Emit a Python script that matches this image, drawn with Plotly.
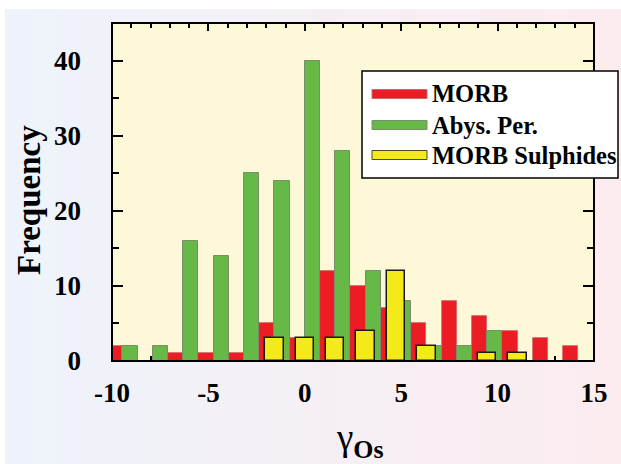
import plotly.graph_objects as go

# Histogram bins (bin centres, gamma-Os) and counts per group
bin_centres = [-9.46, -7.89, -6.31, -4.73, -3.15, -1.58, 0.0, 1.58,
               3.15, 4.73, 6.31, 7.89, 9.46, 11.04, 12.62, 14.19]
morb = [2, 0, 1, 1, 1, 5, 3, 12, 10, 7, 5, 8, 6, 4, 3, 2]
abyssal_per = [2, 2, 16, 14, 25, 24, 40, 28, 12, 8, 2, 2, 4, 0, 0, 0]
morb_sulphides = [0, 0, 0, 0, 0, 3, 3, 3, 4, 12, 2, 0, 1, 1, 0, 0]

series_names = ["MORB", "Abys. Per.", "MORB Sulphides"]
x_ticks = [-10, -5, 0, 5, 10, 15]
y_ticks = [0, 10, 20, 30, 40]

RED = "#ec1c24"
GREEN = "#66b947"
YELLOW = "#f4ea1a"
PLOT_BG = "#fdf8d8"
FONT = "Liberation Serif"

W, H = 621, 464
ML, MR, MT, MB = 112, 27, 23, 103
PW, PH = W - ML - MR, H - MT - MB

half = 0.7885  # half of the bin width


def nz(vals):
    return [v if v else None for v in vals]


def px_x(p):
    return (p - ML) / PW


def px_y(p):
    return (H - MB - p) / PH


fig = go.Figure()
fig.add_trace(go.Bar(x=bin_centres, y=nz(morb), width=half, offset=-half,
                     marker=dict(color=RED, line=dict(color="#c86a6a", width=0.8)),
                     name=series_names[0], showlegend=False))
fig.add_trace(go.Bar(x=bin_centres, y=nz(abyssal_per), width=half, offset=0,
                     marker=dict(color=GREEN, line=dict(color="#7a8c6c", width=1)),
                     name=series_names[1], showlegend=False))
fig.add_trace(go.Bar(x=bin_centres, y=nz(morb_sulphides), width=0.95, offset=-0.475,
                     marker=dict(color=YELLOW, line=dict(color="#1a1a1a", width=1.5)),
                     name=series_names[2], showlegend=False))

shapes = []
# soft left-to-right background wash (blue to pink)
c0 = (238, 243, 251)
c1 = (252, 236, 240)
n = 48
x_start, x_end = 5, W
for i in range(n):
    t = i / (n - 1)
    col = tuple(round(c0[k] + (c1[k] - c0[k]) * t) for k in range(3))
    xa = x_start + (x_end - x_start) * i / n
    xb = x_start + (x_end - x_start) * (i + 1) / n + 1
    shapes.append(dict(type="rect", xref="paper", yref="paper",
                       x0=px_x(xa), x1=px_x(xb), y0=px_y(H), y1=px_y(9),
                       fillcolor="rgb(%d,%d,%d)" % col, line=dict(width=0),
                       layer="below"))
# plot area fill
shapes.append(dict(type="rect", xref="paper", yref="paper", x0=0, x1=1, y0=0, y1=1,
                   fillcolor=PLOT_BG, line=dict(width=0), layer="below"))
# frame
shapes.append(dict(type="rect", xref="paper", yref="paper", x0=0, x1=1, y0=0, y1=1,
                   line=dict(color="black", width=2), layer="above"))

# legend box with long swatches
lx0, lx1, ly0, ly1 = 362, 618, 71, 178
shapes.append(dict(type="rect", xref="paper", yref="paper",
                   x0=px_x(lx0), x1=px_x(lx1), y0=px_y(ly1), y1=px_y(ly0),
                   fillcolor="white", line=dict(color="black", width=1.5), layer="above"))
rows = [94, 125, 155]
sw_fill = [RED, GREEN, YELLOW]
sw_line = ["#c86a6a", "#7a8c6c", "#4a4a2a"]
annotations = []
for yc, fc, lc, name in zip(rows, sw_fill, sw_line, series_names):
    shapes.append(dict(type="rect", xref="paper", yref="paper",
                       x0=px_x(372), x1=px_x(427), y0=px_y(yc + 4.5), y1=px_y(yc - 4.5),
                       fillcolor=fc, line=dict(color=lc, width=1), layer="above"))
    annotations.append(dict(xref="paper", yref="paper", x=px_x(430), y=px_y(yc),
                            xanchor="left", yanchor="middle", showarrow=False,
                            text="<b>%s</b>" % name,
                            font=dict(family=FONT, size=24.5, color="black")))

# axis titles
annotations.append(dict(xref="paper", yref="paper", x=px_x(29), y=px_y(200),
                        xanchor="center", yanchor="middle", showarrow=False,
                        textangle=-90, text="<b>Frequency</b>",
                        font=dict(family=FONT, size=33, color="black")))
annotations.append(dict(xref="paper", yref="paper", x=px_x(360), y=px_y(441),
                        xanchor="center", yanchor="middle", showarrow=False,
                        text="γ<sub><b>Os</b></sub>",
                        font=dict(family=FONT, size=37, color="black")))

fig.update_layout(
    width=W, height=H,
    margin=dict(l=ML, r=MR, t=MT, b=MB, pad=0),
    paper_bgcolor="white",
    plot_bgcolor="rgba(0,0,0,0)",
    barmode="overlay",
    bargap=0,
    showlegend=False,
    shapes=shapes,
    annotations=annotations,
    font=dict(family=FONT, color="black"),
)
fig.update_xaxes(
    range=[-10, 15], tickvals=x_ticks, ticktext=["<b>%d</b>" % v for v in x_ticks],
    ticks="inside", ticklen=8, tickwidth=2, tickcolor="black",
    minor=dict(dtick=1, ticks="inside", ticklen=5, tickwidth=1.5, tickcolor="black"),
    mirror="ticks", showline=False, showgrid=False, zeroline=False,
    layer="below traces", ticklabelstandoff=13,
    tickfont=dict(family=FONT, size=27, color="black"),
)
fig.update_yaxes(
    range=[0, 45], tickvals=y_ticks, ticktext=["<b>%d</b>" % v for v in y_ticks],
    ticks="inside", ticklen=11, tickwidth=2, tickcolor="black",
    minor=dict(dtick=5, ticks="inside", ticklen=7, tickwidth=1.5, tickcolor="black"),
    mirror="ticks", showline=False, showgrid=False, zeroline=False,
    ticklabelstandoff=30,
    tickfont=dict(family=FONT, size=27, color="black"),
)

fig.write_html("out.html")
